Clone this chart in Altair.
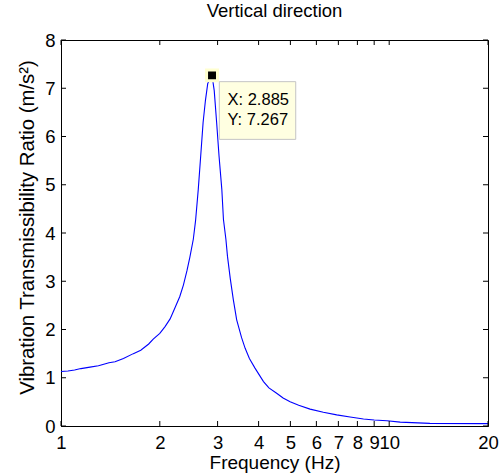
import altair as alt
import pandas as pd

# Curve readings (frequency in Hz, transmissibility ratio)
freq = [1.00, 1.05, 1.10, 1.15, 1.226, 1.30, 1.35, 1.40, 1.461, 1.55, 1.661,
        1.75, 1.85, 1.91, 2.00, 2.075, 2.15, 2.225, 2.30, 2.36, 2.42, 2.47, 2.53,
        2.57, 2.62, 2.665, 2.71, 2.755, 2.80, 2.885, 2.93, 2.98, 3.03, 3.09,
        3.126, 3.18, 3.215, 3.28, 3.35, 3.43, 3.55, 3.64, 3.75, 3.90, 4.14,
        4.30, 4.54, 4.75, 4.99, 5.30, 5.74, 6.30, 6.92, 7.60, 8.35, 9.00,
        9.84, 10.8, 13.3, 20.0]
ratio = [1.13, 1.14, 1.16, 1.19, 1.22, 1.25, 1.28, 1.31, 1.33, 1.40, 1.50,
         1.57, 1.70, 1.80, 1.92, 2.06, 2.22, 2.45, 2.68, 2.92, 3.22, 3.50, 3.87,
         4.25, 4.91, 5.60, 6.29, 6.75, 7.10, 7.267, 6.95, 6.29, 5.60, 4.91,
         4.28, 3.87, 3.52, 3.05, 2.62, 2.20, 1.83, 1.61, 1.40, 1.20, 0.92,
         0.79, 0.68, 0.58, 0.505, 0.43, 0.35, 0.285, 0.23, 0.185, 0.146, 0.125,
         0.11, 0.08, 0.055, 0.05]

x_ticks = [1, 2, 3, 4, 5, 6, 7, 8, 9, 10, 20]
y_ticks = [0, 1, 2, 3, 4, 5, 6, 7, 8]

tip_f = [2.885]
tip_v = [7.267]
tip_lines = ["X: 2.885", "Y: 7.267"]

FONT = "Liberation Sans"

curve = pd.DataFrame({"f": freq, "v": ratio})
xt = pd.DataFrame({"f": x_ticks})
yt = pd.DataFrame({"v": y_ticks})
tip = pd.DataFrame({"f": tip_f, "v": tip_v})

xs = alt.Scale(type="log", domain=[1, 20], nice=False)
ys = alt.Scale(domain=[0, 8], nice=False, zero=False)

xaxis = alt.Axis(values=x_ticks, labelExpr="datum.value", ticks=False,
                 labelOverlap=False, labelFlush=False, grid=False,
                 labelFontSize=18.5, labelPadding=7, labelColor="black",
                 domainColor="black", title="Frequency (Hz)", titleFontSize=19,
                 titleFontWeight="normal", titleColor="black",
                 titleBaseline="alphabetic", titleY=42)
yaxis = alt.Axis(values=y_ticks, ticks=False, grid=False, labelFontSize=18.5,
                 labelPadding=6, labelColor="black", domainColor="black",
                 title="Vibration Transmissibility Ratio (m/s²)", titleFontSize=20.3,
                 titleFontWeight="normal", titleColor="black",
                 titleBaseline="alphabetic", titleX=-28, titleY=187, titleAngle=-90)

X = alt.X("f:Q", scale=xs, axis=xaxis)
Y = alt.Y("v:Q", scale=ys, axis=yaxis)

line = alt.Chart(curve).mark_line(color="#0000FF", strokeWidth=1.1).encode(x=X, y=Y)

bt = alt.Chart(xt).mark_rule(color="black", strokeWidth=1).encode(
    x=X, y=alt.value(386), y2=alt.value(381))
tt = alt.Chart(xt).mark_rule(color="black", strokeWidth=1).encode(
    x=X, y=alt.value(0), y2=alt.value(5))
lt = alt.Chart(yt).mark_rule(color="black", strokeWidth=1).encode(
    y=Y, x=alt.value(0), x2=alt.value(5))
rt = alt.Chart(yt).mark_rule(color="black", strokeWidth=1).encode(
    y=Y, x=alt.value(427), x2=alt.value(422))

box = alt.Chart(tip).mark_rect(fill="#FFFFE1", stroke="#C4C4C4", strokeWidth=1,
                               xOffset=7.3, x2Offset=83.7, yOffset=6.3, y2Offset=64).encode(
    x=X, x2="f:Q", y=Y, y2="v:Q")
marker = alt.Chart(tip).mark_square(size=120, fill="black", stroke="#FFFFD0",
                                    strokeWidth=3, opacity=1).encode(x=X, y=Y)
t1 = alt.Chart(tip).mark_text(text=tip_lines[0], align="left", baseline="alphabetic",
                              dx=15.5, dy=29.6, fontSize=16.5, font=FONT,
                              color="black").encode(x=X, y=Y)
t2 = alt.Chart(tip).mark_text(text=tip_lines[1], align="left", baseline="alphabetic",
                              dx=15.5, dy=49.6, fontSize=16.5, font=FONT,
                              color="black").encode(x=X, y=Y)

chart = alt.layer(line, bt, tt, lt, rt, box, marker, t1, t2).properties(
    width=427, height=386,
    title=alt.TitleParams("Vertical direction", fontSize=18.5, fontWeight="normal",
                          font=FONT, color="black", offset=11, anchor="middle"),
    autosize=alt.AutoSizeParams(type="none"),
    padding={"left": 61, "top": 40, "right": 11, "bottom": 49},
).configure(font=FONT, background="white").configure_view(
    stroke="black", strokeWidth=1
).configure_axis(labelFont=FONT, titleFont=FONT, domainWidth=1)

chart.save("out.html", embed_options={"renderer": "svg", "actions": False})
